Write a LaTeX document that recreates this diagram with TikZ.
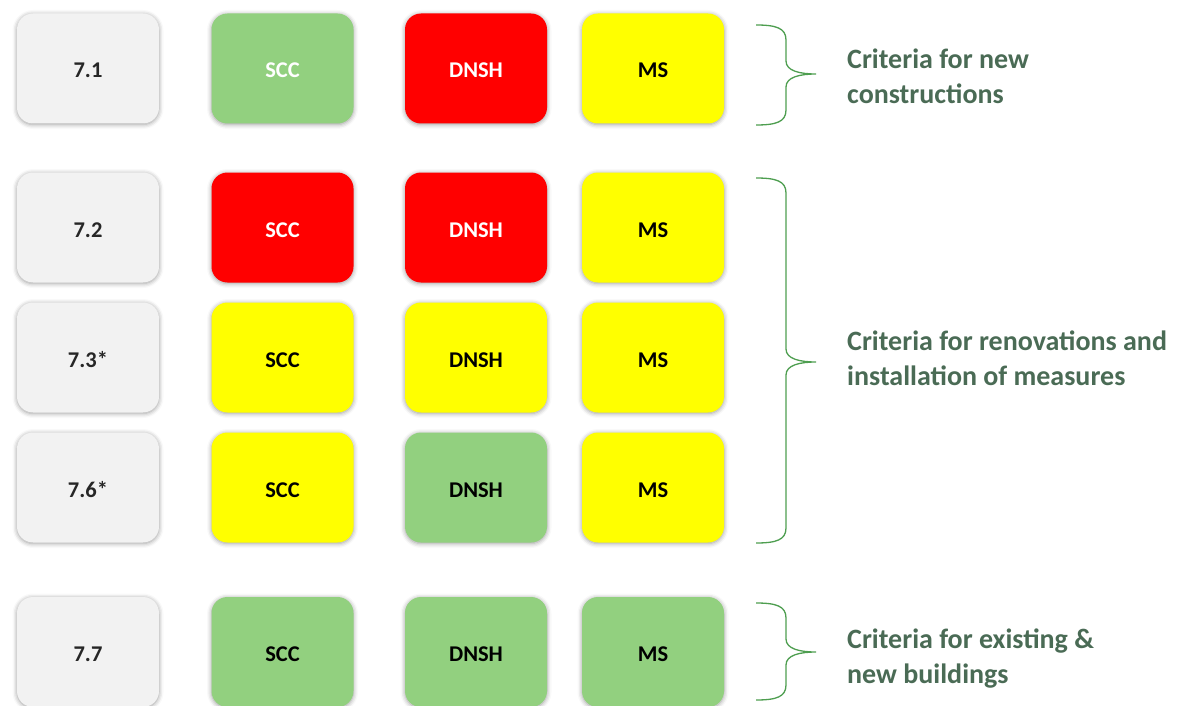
\documentclass[tikz,border=0pt]{standalone}
\usepackage{fontspec}
\setmainfont{Carlito}
\usetikzlibrary{shadows.blur}
\definecolor{cellgray}{HTML}{F2F2F2}
\definecolor{cellgreen}{HTML}{92D07F}
\definecolor{cellred}{HTML}{FF0000}
\definecolor{cellyellow}{HTML}{FFFF00}
\definecolor{bracegreen}{HTML}{4E9E50}
\definecolor{labelgreen}{HTML}{4A6B55}
\tikzset{
  cell/.style={rounded corners=16pt, minimum width=142pt, minimum height=110pt,
    inner sep=0pt, text height=19pt, text depth=0pt,
    font=\bfseries\fontsize{22.5}{26}\selectfont,
    blur shadow={shadow xshift=0pt, shadow yshift=-1pt, shadow blur radius=4.5pt, shadow opacity=40}},
  idcell/.style={cell, fill=cellgray, text=black!85},
  gcell/.style={cell, fill=cellgreen, text=black},
  gwcell/.style={cell, fill=cellgreen, text=white},
  rcell/.style={cell, fill=cellred, text=white},
  ycell/.style={cell, fill=cellyellow, text=black},
  bracepath/.style={draw=bracegreen, line width=1.3pt},
  critlabel/.style={anchor=west, align=left, text=labelgreen, inner sep=0pt,
    font=\bfseries\fontsize{28}{35}\selectfont}
}
% right-hand curly brace: top end, tip, bottom end
\newcommand\critbrace[3]{%
  \draw[bracepath] (756,#1) .. controls (776,#1) and (786,#1+3) .. (786,#1+15)
    -- (786,#2-13) .. controls (786,#2-3) and (800,#2) .. (816,#2)
    .. controls (800,#2) and (786,#2+3) .. (786,#2+13)
    -- (786,#3-15) .. controls (786,#3-3) and (776,#3) .. (756,#3);}
\begin{document}
\begin{tikzpicture}[x=1pt, y=-1pt]
\useasboundingbox (0,0) rectangle (1188,706);
% row 7.1
\node[idcell]  (a1) at (88,68.5)   {7.1};
\node[gwcell]  (b1) at (282.5,68.5){SCC};
\node[rcell]   (c1) at (476,68.5)  {DNSH};
\node[ycell]   (d1) at (653,68.5)  {MS};
% row 7.2
\node[idcell]  (a2) at (88,227.5)   {7.2};
\node[rcell]   (b2) at (282.5,227.5){SCC};
\node[rcell]   (c2) at (476,227.5)  {DNSH};
\node[ycell]   (d2) at (653,227.5)  {MS};
% row 7.3
\node[idcell]  (a3) at (88,357.5)   {7.3*};
\node[ycell]   (b3) at (282.5,357.5){SCC};
\node[ycell]   (c3) at (476,357.5)  {DNSH};
\node[ycell]   (d3) at (653,357.5)  {MS};
% row 7.6
\node[idcell]  (a4) at (88,487.5)   {7.6*};
\node[ycell]   (b4) at (282.5,487.5){SCC};
\node[gcell]   (c4) at (476,487.5)  {DNSH};
\node[ycell]   (d4) at (653,487.5)  {MS};
% row 7.7
\node[idcell]  (a5) at (88,652)   {7.7};
\node[gcell]   (b5) at (282.5,652){SCC};
\node[gcell]   (c5) at (476,652)  {DNSH};
\node[gcell]   (d5) at (653,652)  {MS};
% braces and group labels
\critbrace{25}{74}{125}
\node[critlabel] (l1) at (847,76) {Criteria for new\\constructions};
\critbrace{178}{362}{543}
\node[critlabel] (l2) at (847,358) {Criteria for renovations and\\installation of measures};
\critbrace{603}{652}{700}
\node[critlabel] (l3) at (847,659) {Criteria for existing \&\\new buildings};
\end{tikzpicture}
\end{document}
